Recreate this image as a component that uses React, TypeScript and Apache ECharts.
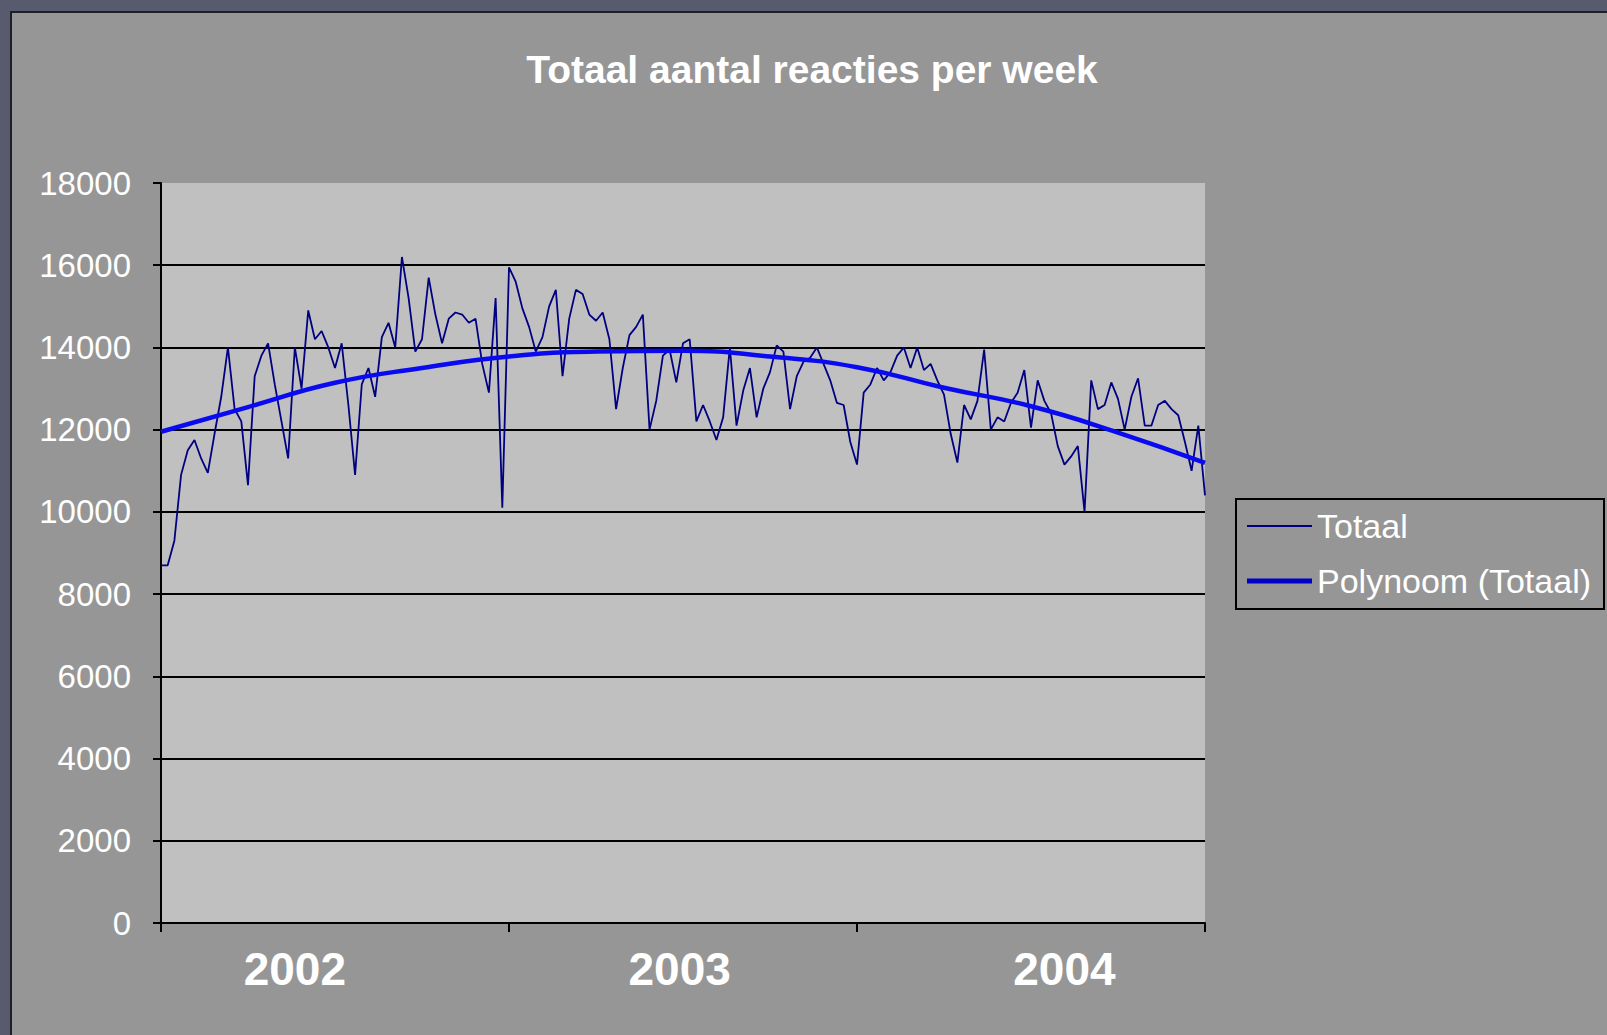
import React, { useEffect, useRef } from "react";
import * as echarts from "echarts";

// Weekly totals, 2002 – 2004
const totaal: number[] = [
  8700, 8700, 9300, 10900, 11500, 11750, 11300, 10950, 11900, 12800,
  14000, 12500, 12200, 10650, 13300, 13800, 14100, 13100, 12200, 11300,
  14000, 13000, 14900, 14200, 14400, 14000, 13500, 14100, 12600, 10900,
  13100, 13500, 12800, 14250, 14600, 14000, 16200, 15200, 13900, 14200,
  15700, 14800, 14100, 14700, 14850, 14800, 14600, 14700, 13600, 12900,
  15200, 10100, 15950, 15600, 14950, 14500, 13900, 14250, 15000, 15400,
  13300, 14700, 15400, 15300, 14800, 14650, 14850, 14200, 12500, 13500,
  14300, 14500, 14800, 12000, 12700, 13800, 13950, 13150, 14100, 14200,
  12200, 12600, 12200, 11750, 12300, 14000, 12100, 12950, 13500, 12300,
  13000, 13400, 14050, 13900, 12500, 13300, 13650, 13750, 14000, 13600,
  13200, 12650, 12600, 11700, 11150, 12900, 13100, 13500, 13200, 13400,
  13800, 14000, 13500, 14000, 13450, 13600, 13200, 12850, 11900, 11200,
  12600, 12250, 12700, 13950, 12000, 12300, 12200, 12650, 12900, 13450,
  12050, 13200, 12700, 12400, 11600, 11150, 11350, 11600, 10000, 13200,
  12500, 12600, 13150, 12750, 12000, 12800, 13250, 12100, 12100, 12600,
  12700, 12500, 12350, 11700, 11000, 12100, 10400,
];

// Polynomial trendline, read at these week indices
const trendWeeks: number[] = [0, 13, 26, 39, 52, 65, 78, 91, 104, 117, 130, 143, 156];
const trendValues: number[] = [11950, 12550, 13140, 13500, 13780, 13900, 13920, 13780, 13520, 13020, 12570, 11930, 11190];

// Axis labelling
const yearLabels: string[] = ["2002", "2003", "2004"];
const yearLabelWeeks: number[] = [20, 77.5, 135];
const yearTickWeeks: number[] = [0, 52, 104, 156];
const seriesNames: string[] = ["Totaal", "Polynoom (Totaal)"];
const titleText = "Totaal aantal reacties per week";

const ARIAL = '"Liberation Sans", Arial, sans-serif';
const NAVY = "#000080";
const BLUE = "#0a0af0";

export default function App() {
  const ref = useRef<HTMLDivElement>(null);

  useEffect(() => {
    if (!ref.current) return;
    const chart = echarts.init(ref.current, undefined, { renderer: "svg" });
    const lastWeek = totaal.length - 1;
    const legendText = {
      color: "#ffffff",
      fontFamily: ARIAL,
      fontSize: 34,
      lineHeight: 40,
    };
    const option: any = {
      animation: false,
      backgroundColor: "#969696",
      title: {
        text: titleText,
        left: 795,
        top: 32,
        textAlign: "center",
        textStyle: {
          color: "#ffffff",
          fontFamily: ARIAL,
          fontWeight: "bold",
          fontSize: 39,
        },
      },
      graphic: [
        {
          type: "rect",
          left: 1223,
          top: 485,
          shape: { width: 368, height: 110 },
          style: { fill: "#969696", stroke: "#000000", lineWidth: 2 },
          z: 0,
        },
      ],
      legend: [
        {
          left: 1235,
          top: 493,
          padding: 0,
          icon: "rect",
          itemWidth: 65,
          itemHeight: 2,
          data: [{ name: seriesNames[0], itemStyle: { color: NAVY } }],
          textStyle: legendText,
          z: 5,
        },
        {
          left: 1235,
          top: 548,
          padding: 0,
          icon: "rect",
          itemWidth: 65,
          itemHeight: 5,
          data: [{ name: seriesNames[1], itemStyle: { color: "#0000c8" } }],
          textStyle: legendText,
          z: 5,
        },
      ],
      grid: {
        left: 149,
        top: 170,
        width: 1044,
        height: 740,
        show: true,
        backgroundColor: "#c0c0c0",
        borderWidth: 0,
        containLabel: false,
      },
      xAxis: {
        type: "value",
        min: 0,
        max: lastWeek,
        splitLine: { show: false },
        axisLine: { show: true, onZero: false, lineStyle: { color: "#000000", width: 2 } },
        axisTick: {
          show: true,
          customValues: yearTickWeeks,
          length: 9,
          lineStyle: { color: "#000000", width: 2 },
        },
        axisLabel: {
          customValues: yearLabelWeeks,
          formatter: (v: number) => {
            const k = yearLabelWeeks.indexOf(v);
            return k >= 0 ? yearLabels[k] : "";
          },
          color: "#ffffff",
          fontFamily: ARIAL,
          fontWeight: "bold",
          fontSize: 46,
          margin: 23,
        },
      },
      yAxis: {
        type: "value",
        min: 0,
        max: 18000,
        interval: 2000,
        axisLine: { show: true, lineStyle: { color: "#000000", width: 2 } },
        axisTick: { show: true, length: 8, lineStyle: { color: "#000000", width: 2 } },
        splitLine: {
          show: true,
          showMaxLine: false,
          lineStyle: { color: "#000000", width: 2 },
        },
        axisLabel: {
          formatter: (v: number) => String(v),
          color: "#ffffff",
          fontFamily: ARIAL,
          fontSize: 33,
          margin: 30,
        },
      },
      series: [
        {
          name: seriesNames[0],
          type: "line",
          data: totaal.map((v, i) => [i, v]),
          symbol: "none",
          lineStyle: { color: NAVY, width: 1.8 },
          itemStyle: { color: NAVY },
          z: 2,
        },
        {
          name: seriesNames[1],
          type: "line",
          data: trendWeeks.map((w, k) => [w, trendValues[k]]),
          smooth: true,
          symbol: "none",
          lineStyle: { color: BLUE, width: 4.5 },
          itemStyle: { color: BLUE },
          z: 3,
        },
      ],
    };
    chart.setOption(option);
    return () => chart.dispose();
  }, []);

  return (
    <div
      style={{
        position: "fixed",
        left: 0,
        top: 0,
        width: 1607,
        height: 1035,
        background: "#585b6d",
        overflow: "hidden",
      }}
    >
      <div
        style={{
          position: "absolute",
          left: 10,
          top: 11,
          width: 1597,
          height: 1024,
          borderLeft: "2px solid #1e1e24",
          borderTop: "2px solid #1e1e24",
          background: "#969696",
        }}
      >
        <div ref={ref} style={{ width: 1595, height: 1022 }} />
      </div>
    </div>
  );
}
